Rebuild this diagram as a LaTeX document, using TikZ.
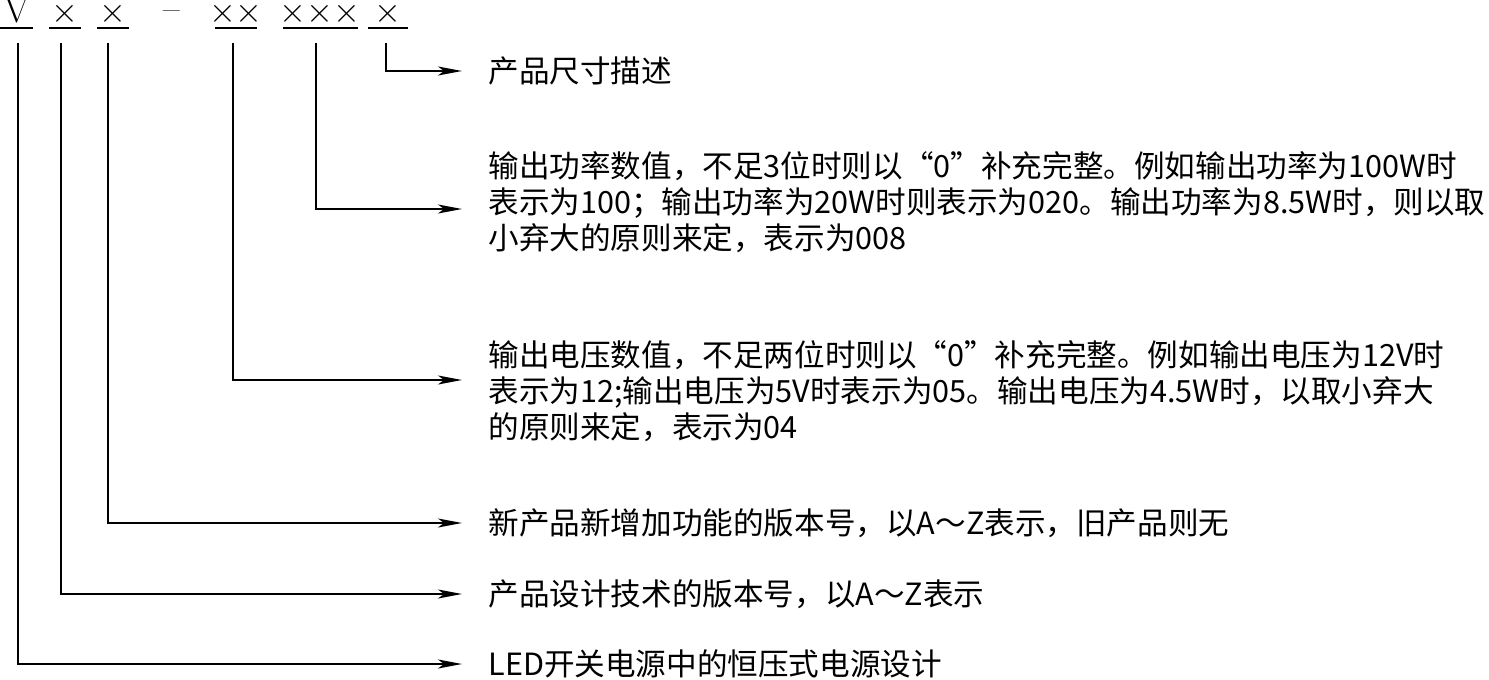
\documentclass[tikz,border=0pt]{standalone}
\usepackage{fontspec}
\newfontfamily\cjk{Noto Sans CJK SC}
\usetikzlibrary{arrows.meta,positioning}

\begin{document}
\begin{tikzpicture}[x=0.5pt,y=-0.5pt,
  code/.style={inner sep=0pt,font=\fontsize{18}{18}\selectfont},
  uline/.style={line width=1pt},
  lead/.style={line width=1pt,-{Stealth[length=12pt,width=4.5pt,inset=3pt]}},
  desc/.style={anchor=west,inner xsep=13pt,inner ysep=0pt,align=left,
    font=\cjk\fontsize{15.3}{18}\selectfont}]

\useasboundingbox (0,0) rectangle (1489,680);

% the code and its underlines
\def\codes{cV/17/0/33/{V},c1/65/49/81/{$\times$},c2/113/97/129/{$\times$},c3/236/215/257/{${\times}{\times}$},c4/320/283/358/{${\times}{\times}{\times}$},c5/388/368/408/{$\times$}}
\foreach \n/\x/\a/\b/\t in \codes {
  \node [code,anchor=base] (\n) at (\x,22) {\t};
  \draw [uline] (\a,28) -- (\b,28);
}
\node [code,anchor=base] (cdash) at (172,20) {--};

% tops of the leads
\coordinate (vV) at (18,43);
\coordinate (v1) at (61,43);
\coordinate (v2) at (108,43);
\coordinate (v3) at (233,43);
\coordinate (v4) at (316,43);
\coordinate (v5) at (386,43);

% descriptions
\node [desc] (dS) at (462,71) {产品尺寸描述};
\node [desc] (dP) at (462,202) {输出功率数值，不足3位时则以“0”补充完整。例如输出功率为100W时\\
  表示为100；输出功率为20W时则表示为020。输出功率为8.5W时，则以取\\
  小弃大的原则来定，表示为008};
\node [desc] (dU) at (462,391) {输出电压数值，不足两位时则以“0”补充完整。例如输出电压为12V时\\
  表示为12;输出电压为5V时表示为05。输出电压为4.5W时，以取小弃大\\
  的原则来定，表示为04};
\node [desc] (dN) at (462,523) {新产品新增加功能的版本号，以A～Z表示，旧产品则无};
\node [desc] (dD) at (462,594) {产品设计技术的版本号，以A～Z表示};
\node [desc] (dL) at (462,664) {LED开关电源中的恒压式电源设计};

% leads
\draw [lead] (v5) |- (dS.west);
\draw [lead] (v4) |- ([yshift=-3.5pt]dP.west);
\draw [lead] (v3) |- ([yshift=5.5pt]dU.west);
\draw [lead] (v2) |- (dN.west);
\draw [lead] (v1) |- (dD.west);
\draw [lead] (vV) |- (dL.west);

\end{tikzpicture}
\end{document}
